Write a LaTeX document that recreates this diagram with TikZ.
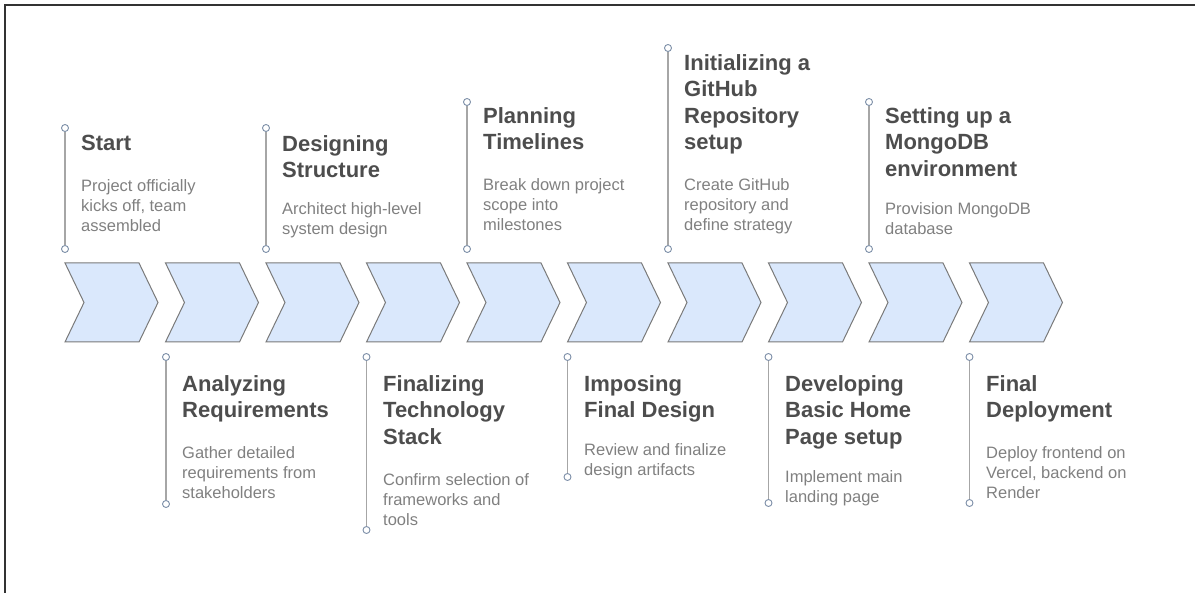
\documentclass[tikz,border=0pt]{standalone}
\usepackage{fontspec}
\setmainfont{Liberation Sans}
\definecolor{chevfill}{HTML}{DAE8FC}
\definecolor{chevline}{HTML}{7A7A7A}
\definecolor{stemgray}{HTML}{A6A6A6}
\definecolor{dotline}{HTML}{7D8FA8}
\definecolor{titlegray}{HTML}{4D4D4D}
\definecolor{notegray}{HTML}{808080}
\tikzstyle{chevron}=[draw=chevline,fill=chevfill,line width=1pt,line join=miter]
\tikzstyle{dot}=[circle,draw=dotline,fill=white,line width=0.9pt,minimum size=7pt,inner sep=0pt]
\tikzstyle{stem}=[draw=stemgray,line width=1.6pt]
\tikzstyle{heading}=[anchor=north west,align=left,inner sep=0pt,text=titlegray,font=\bfseries\fontsize{22}{26.5}\selectfont]
\tikzstyle{note}=[anchor=north west,align=left,inner sep=0pt,text=notegray,font=\fontsize{16.5}{20}\selectfont]

\begin{document}
\begin{tikzpicture}[x=1pt,y=1pt]
\useasboundingbox (0,0) rectangle (1195,-593);
\draw[line width=1.3pt,draw=black!80] (5,-593) -- (5,-5) -- (1195,-5);

% the ten chevrons
\foreach \i in {0,...,9}
  \draw[chevron] ({65+100.5*\i},-263) -- ++(74,0) -- ++(19,-39.5) -- ++(-19,-39.5) -- ++(-74,0) -- ++(19,39.5) -- cycle;

% milestones above
\node[dot] at (65, -128) (u1) {};
\node[dot] at (65, -249) (l1) {};
\draw[stem] (u1) -- (l1);
\node[heading] at (81, -135) (t1) {Start};
\node[note] at (81, -179) (d1) {Project officially\\kicks off, team\\assembled};

\node[dot] at (266, -128) (u3) {};
\node[dot] at (266, -249) (l3) {};
\draw[stem] (u3) -- (l3);
\node[heading] at (282, -135) (t3) {Designing\\Structure};
\node[note] at (282, -202) (d3) {Architect high-level\\system design};

\node[dot] at (467, -102) (u5) {};
\node[dot] at (467, -249) (l5) {};
\draw[stem] (u5) -- (l5);
\node[heading] at (483, -107) (t5) {Planning\\Timelines};
\node[note] at (483, -178) (d5) {Break down project\\scope into\\milestones};

\node[dot] at (668, -48) (u7) {};
\node[dot] at (668, -249) (l7) {};
\draw[stem] (u7) -- (l7);
\node[heading] at (684, -54) (t7) {Initializing a\\GitHub\\Repository\\setup};
\node[note] at (684, -178) (d7) {Create GitHub\\repository and\\define strategy};

\node[dot] at (869, -102) (u9) {};
\node[dot] at (869, -249) (l9) {};
\draw[stem] (u9) -- (l9);
\node[heading] at (885, -107) (t9) {Setting up a\\MongoDB\\environment};
\node[note] at (885, -202) (d9) {Provision MongoDB\\database};

% milestones below
\node[dot] at (166, -357) (u2) {};
\node[dot] at (166, -504) (l2) {};
\draw[stem] (u2) -- (l2);
\node[heading] at (182, -375) (t2) {Analyzing\\Requirements};
\node[note] at (182, -446) (d2) {Gather detailed\\requirements from\\stakeholders};

\node[dot] at (366.5, -357) (u4) {};
\node[dot] at (366.5, -530) (l4) {};
\draw[stem] (u4) -- (l4);
\node[heading] at (383, -375) (t4) {Finalizing\\Technology\\Stack};
\node[note] at (383, -473) (d4) {Confirm selection of\\frameworks and\\tools};

\node[dot] at (567.5, -357) (u6) {};
\node[dot] at (567.5, -477) (l6) {};
\draw[stem] (u6) -- (l6);
\node[heading] at (584, -375) (t6) {Imposing\\Final Design};
\node[note] at (584, -443) (d6) {Review and finalize\\design artifacts};

\node[dot] at (768.5, -357) (u8) {};
\node[dot] at (768.5, -503) (l8) {};
\draw[stem] (u8) -- (l8);
\node[heading] at (785, -375) (t8) {Developing\\Basic Home\\Page setup};
\node[note] at (785, -470) (d8) {Implement main\\landing page};

\node[dot] at (969.5, -357) (u10) {};
\node[dot] at (969.5, -503) (l10) {};
\draw[stem] (u10) -- (l10);
\node[heading] at (986, -375) (t10) {Final\\Deployment};
\node[note] at (986, -446) (d10) {Deploy frontend on\\Vercel, backend on\\Render};
\end{tikzpicture}
\end{document}
